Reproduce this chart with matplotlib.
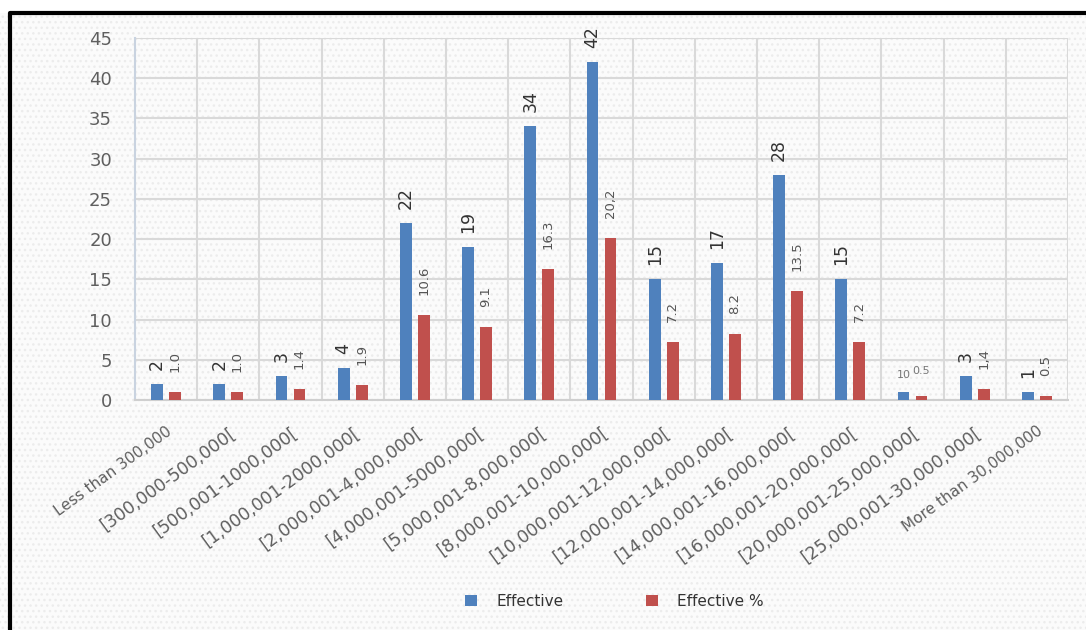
import numpy as np
import matplotlib
matplotlib.use("Agg")
import matplotlib.pyplot as plt
import matplotlib.transforms as mtrans
from matplotlib.patches import Rectangle, Patch
from matplotlib.lines import Line2D

categories = ["Less than 300,000", "[300,000-500,000[", "[500,001-1000,000[",
              "[1,000,001-2000,000[", "[2,000,001-4,000,000[", "[4,000,001-5000,000[",
              "[5,000,001-8,000,000[", "[8,000,001-10,000,000[", "[10,000,001-12,000,000[",
              "[12,000,001-14,000,000[", "[14,000,001-16,000,000[", "[16,000,001-20,000,000[",
              "[20,000,001-25,000,000[", "[25,000,001-30,000,000[", "More than 30,000,000"]
effective = [2, 2, 3, 4, 22, 19, 34, 42, 15, 17, 28, 15, 1, 3, 1]
effective_pct = [1.0, 1.0, 1.4, 1.9, 10.6, 9.1, 16.3, 20.2, 7.2, 8.2, 13.5, 7.2, 0.5, 1.4, 0.5]
eff_labels = ["2", "2", "3", "4", "22", "19", "34", "42", "15", "17", "28", "15", "10", "3", "1"]
pct_labels = ["1.0", "1.0", "1.4", "1.9", "10.6", "9.1", "16.3", "20,2", "7.2", "8.2",
              "13.5", "7.2", "0.5", "1,4", "0.5"]

blue = "#4F81BD"
red = "#C0504D"
grid_c = "#d9d9d9"
txt_c = "#5f5f5f"

fig = plt.figure(figsize=(10.86, 6.3), dpi=100)
fig.patch.set_facecolor("white")
# dotted background texture
bg = Rectangle((0.0, 0.0), 1, 0.979, transform=fig.transFigure, facecolor="#fbfbfb",
               edgecolor="#ececec", hatch="...", lw=0, zorder=-10)
fig.add_artist(bg)
# black frame (left and top visible)
fig.add_artist(Line2D([0.0092, 0.0092, 1.0], [0.0, 0.979, 0.979], transform=fig.transFigure,
                      color="black", lw=3, zorder=10))

ax = fig.add_axes([0.1243, 0.365, 0.9834 - 0.1243, 0.9397 - 0.365])
ax.set_facecolor("none")

x = np.arange(len(categories))
off = 0.145
w = 0.19
b1 = ax.bar(x - off, effective, w, color=blue, zorder=3)
b2 = ax.bar(x + off, effective_pct, w, color=red, zorder=3)

for i in range(len(categories)):
    if i == 12:
        ax.annotate(eff_labels[i], (x[i] - off, effective[i]), xytext=(0, 12),
                    textcoords="offset pixels", ha="center", va="bottom",
                    fontsize=8, color="#777777")
        ax.annotate(pct_labels[i], (x[i] + off, effective_pct[i]), xytext=(0, 20),
                    textcoords="offset pixels", ha="center", va="bottom",
                    fontsize=8, color="#777777")
        continue
    ax.annotate(eff_labels[i], (x[i] - off, effective[i]), xytext=(0, 14),
                textcoords="offset pixels", ha="center", va="bottom", rotation=90,
                fontsize=12.5, color="#333333",
                family=["Liberation Sans Narrow", "DejaVu Sans"])
    ax.annotate(pct_labels[i], (x[i] + off, effective_pct[i]), xytext=(0, 20),
                textcoords="offset pixels", ha="center", va="bottom", rotation=90,
                fontsize=9.5, color="#555555",
                family=["Liberation Sans Narrow", "DejaVu Sans"])

ax.set_xlim(-0.5, len(categories) - 0.5)
ax.set_ylim(0, 45)
ax.set_yticks(np.arange(0, 46, 5))
ax.set_xticks(x)
ax.set_xticklabels(categories)
ax.set_xticks(np.arange(0.5, len(categories), 1), minor=True)

ax.grid(axis="y", which="major", color=grid_c, lw=1.5, zorder=0)
ax.grid(axis="x", which="minor", color=grid_c, lw=1.5, zorder=0)
ax.tick_params(axis="both", which="both", length=0)
ax.tick_params(axis="y", labelsize=13, labelcolor=txt_c, pad=16.5)
ax.tick_params(axis="x", pad=17)
for lab in ax.get_yticklabels():
    lab.set_family(["DejaVu Sans"])

shift = mtrans.ScaledTranslation(0, 0, fig.dpi_scale_trans)
for i, lab in enumerate(ax.get_xticklabels()):
    lab.set_rotation(36)
    lab.set_ha("right")
    lab.set_va("top")
    lab.set_rotation_mode("anchor")
    lab.set_color(txt_c)
    lab.set_family(["DejaVu Sans"])
    lab.set_transform(lab.get_transform() + shift)
    if i in (0, len(categories) - 1):
        lab.set_fontsize(11)
    else:
        lab.set_fontsize(12.5)

for s in ["top", "right"]:
    ax.spines[s].set_visible(False)
ax.spines["left"].set_color("#c9d3e0")
ax.spines["bottom"].set_color("#cfcfcf")
ax.spines["left"].set_linewidth(1.5)
ax.spines["bottom"].set_linewidth(1.5)

handles = [Patch(facecolor=blue, label="Effective"), Patch(facecolor=red, label="Effective %")]
leg = fig.legend(handles=handles, loc="center", bbox_to_anchor=(0.566, 0.046), ncol=2,
                 frameon=False, handlelength=0.75, handleheight=0.75, handletextpad=1.3,
                 columnspacing=5.4, prop={"family": ["DejaVu Sans"], "size": 11})
for t in leg.get_texts():
    t.set_color("#333333")

fig.savefig("out.png", dpi=100)
